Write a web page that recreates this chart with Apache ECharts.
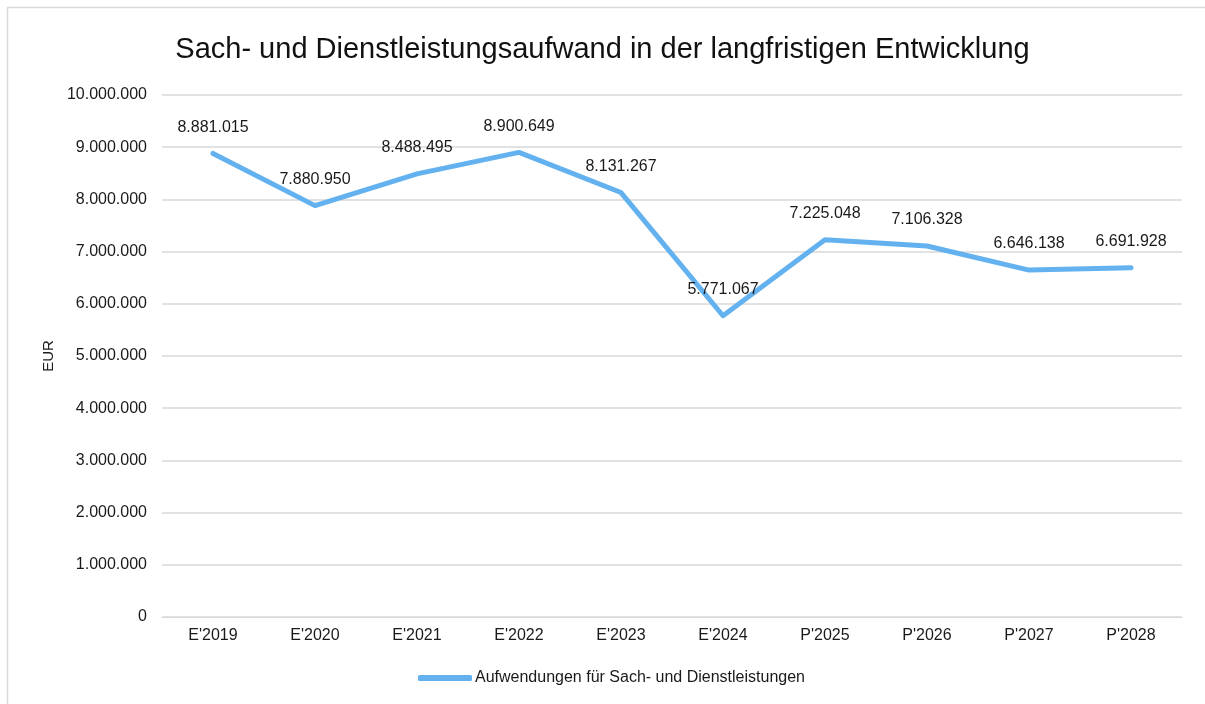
<!DOCTYPE html>
<html><head><meta charset="utf-8">
<script src="https://cdn.jsdelivr.net/npm/echarts@6/dist/echarts.min.js"></script>
<style>html,body{margin:0;padding:0;background:#fff}#c{width:1205px;height:704px}</style>
</head><body><div id="c"></div>
<script>
const categories = ["E'2019","E'2020","E'2021","E'2022","E'2023","E'2024","P'2025","P'2026","P'2027","P'2028"];
const values = [8881015, 7880950, 8488495, 8900649, 8131267, 5771067, 7225048, 7106328, 6646138, 6691928];
const seriesName = "Aufwendungen für Sach- und Dienstleistungen";
const titleText = "Sach- und Dienstleistungsaufwand in der langfristigen Entwicklung";
const yAxisName = "EUR";

function fmt(v){ return String(Math.round(v)).replace(/\B(?=(\d{3})+(?!\d))/g, '.'); }
const font = 'Liberation Sans, Arial, sans-serif';
const chart = echarts.init(document.getElementById('c'));
chart.setOption({
  animation:false,
  title:{text:titleText, left:'center', top:30, textStyle:{fontFamily:font, fontSize:29, fontWeight:'normal', color:'#111'}},
  graphic:[{type:'rect', shape:{x:7.5,y:7.5,width:1300,height:800}, style:{fill:'none', stroke:'#d9d9d9', lineWidth:1.5}, silent:true}],
  grid:{left:162, right:23, top:95, bottom:87},
  legend:{bottom:13, left:413, icon:'roundRect', itemWidth:54, itemHeight:6, itemGap:4,
    textStyle:{fontFamily:font, fontSize:16, color:'#1a1a1a', padding:[0,0,0,-2]}, data:[seriesName]},
  xAxis:{type:'category', data:categories, boundaryGap:true,
    axisLine:{lineStyle:{color:'#d9d9d9', width:1}}, axisTick:{show:false},
    axisLabel:{fontFamily:font, fontSize:16, color:'#1a1a1a', margin:11}},
  yAxis:{type:'value', min:0, max:10000000, interval:1000000, name:yAxisName, nameLocation:'middle', nameGap:102, nameRotate:90,
    nameTextStyle:{fontFamily:font, fontSize:15, color:'#1a1a1a'},
    axisLine:{show:false}, axisTick:{show:false},
    splitLine:{lineStyle:{color:'#d9d9d9', width:1.5}},
    axisLabel:{fontFamily:font, fontSize:16, color:'#1a1a1a', margin:15, formatter:fmt}},
  series:[{name:seriesName, type:'line', data:values, showSymbol:true, symbol:'circle', symbolSize:0.01,
    lineStyle:{color:'#63b2ef', width:5, cap:'round', join:'round'}, itemStyle:{color:'#63b2ef'},
    label:{show:true, position:'top', distance:18, fontFamily:font, fontSize:16, color:'#1a1a1a', formatter:p=>fmt(p.value)}}]
});
</script></body></html>
